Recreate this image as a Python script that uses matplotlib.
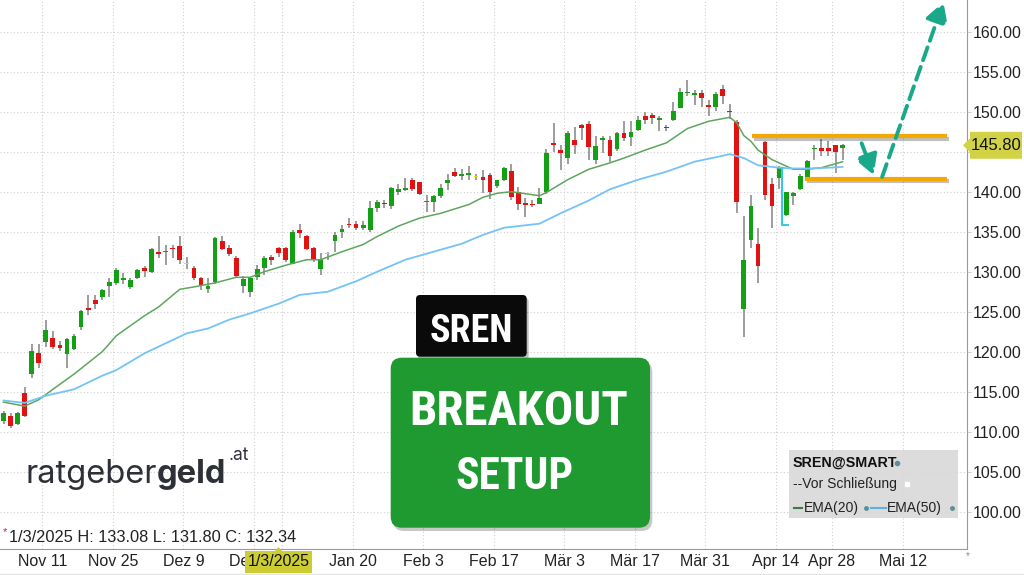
import matplotlib
matplotlib.use('Agg')
import matplotlib.pyplot as plt
import matplotlib.patheffects as pe
from matplotlib.patches import FancyBboxPatch, Rectangle, Polygon
from matplotlib import font_manager
from matplotlib.font_manager import FontProperties
from matplotlib.textpath import TextPath
import numpy as np
import pandas as pd

#%% Daten
first_day = '2024-11-01'
holidays = ['2024-12-24', '2024-12-25', '2024-12-26', '2024-12-31',
            '2025-01-01', '2025-01-02', '2025-04-18', '2025-04-21']

opens = [111.4, 112.0, 111.0, 114.8, 117.2, 119.9, 121.2, 121.7, 120.9, 119.7,
         120.3, 123.1, 125.5, 126.5, 126.8, 128.2, 128.6, 129.0, 128.1, 129.2,
         130.4, 129.9, 132.5, 132.4, 133.0, 133.2, 130.9, 130.5, 129.2, 127.9,
         128.7, 133.8, 133.0, 131.7, 128.2, 127.5, 129.3, 130.5, 131.8, 133.0,
         133.0, 131.0, 135.2, 134.4, 133.0, 130.3, 132.2, 133.8, 134.9, 136.0,
         136.0, 135.5, 135.2, 137.9, 138.6, 138.2, 140.0, 140.2, 141.5, 141.2,
         138.7, 138.7, 139.4, 141.1, 142.4, 142.0, 142.1, 141.8, 141.8, 142.1,
         140.7, 141.4, 142.6, 140.0, 138.6, 138.5, 138.5, 139.9, 146.1, 145.2,
         144.2, 146.4, 148.3, 148.5, 143.9, 146.5, 146.5, 145.3, 147.3, 146.8,
         147.7, 149.5, 149.6, 148.9, 148.1, 149.0, 150.5, 152.3, 152.1, 152.3,
         150.8, 150.6, 152.8, 150.1, 148.75, 125.4, 134.0, 133.5, 146.2, 141.0,
         141.7, 137.1, 139.4, 140.3, 141.8, 145.3, 145.4, 145.4, 145.8, 145.5]
highs = [112.6, 112.3, 112.5, 115.6, 121.0, 121.0, 124.0, 122.6, 121.4, 121.7,
         122.2, 125.2, 127.1, 127.1, 127.9, 129.2, 130.4, 129.8, 129.2, 130.3,
         130.7, 132.9, 134.4, 133.3, 133.3, 134.4, 131.8, 130.7, 129.4, 129.2,
         134.3, 134.5, 133.3, 131.9, 129.5, 129.4, 130.8, 131.9, 132.1, 133.08,
         133.1, 135.2, 136.0, 134.6, 133.1, 132.3, 132.5, 134.9, 135.8, 136.7,
         136.3, 136.3, 138.8, 139.0, 139.0, 140.6, 141.0, 141.7, 141.7, 141.2,
         139.6, 139.6, 141.0, 142.2, 142.9, 142.8, 143.2, 142.2, 142.7, 142.3,
         141.5, 143.1, 143.5, 140.6, 139.2, 139.0, 140.4, 145.3, 148.6, 145.8,
         147.6, 148.1, 148.5, 148.8, 147.0, 147.0, 147.0, 147.5, 148.8, 148.8,
         149.4, 150.0, 149.8, 149.4, 148.3, 151.2, 152.9, 154.0, 152.7, 152.7,
         151.5, 152.5, 153.3, 151.0, 149.0, 136.9, 139.6, 135.5, 146.3, 141.7,
         143.2, 140.0, 140.0, 142.2, 144.0, 145.8, 146.6, 146.3, 145.8, 145.96]
lows = [111.0, 110.5, 110.8, 111.9, 116.7, 118.0, 120.6, 120.3, 120.1, 118.0,
        120.2, 122.7, 124.6, 125.3, 126.5, 126.9, 128.3, 128.5, 127.8, 129.1,
        129.4, 129.8, 131.7, 130.8, 131.7, 131.0, 130.3, 129.0, 127.7, 127.3,
        128.5, 132.7, 131.9, 129.3, 127.4, 126.9, 129.0, 129.6, 130.8, 131.8,
        131.2, 130.95, 134.2, 132.7, 131.2, 129.6, 131.5, 132.5, 134.2, 135.4,
        135.2, 135.2, 135.0, 137.5, 137.9, 137.8, 139.6, 140.1, 140.1, 139.6,
        137.4, 137.5, 139.2, 140.2, 141.8, 141.5, 141.5, 141.5, 139.8, 139.1,
        140.5, 141.3, 139.0, 137.7, 136.8, 138.1, 138.5, 139.7, 144.9, 142.7,
        143.5, 144.7, 146.5, 144.0, 143.5, 144.8, 143.7, 145.1, 146.3, 145.7,
        147.6, 148.5, 148.5, 147.6, 147.6, 148.8, 150.4, 151.9, 150.8, 150.6,
        149.5, 150.1, 151.0, 149.1, 137.3, 121.9, 133.0, 128.6, 139.0, 135.4,
        140.3, 137.0, 138.3, 140.2, 141.5, 143.9, 144.4, 144.4, 142.3, 143.96]
closes = [112.4, 110.7, 112.3, 112.0, 120.1, 118.6, 122.7, 120.6, 120.5, 121.6,
          122.0, 125.1, 125.2, 126.0, 127.7, 128.7, 130.2, 129.2, 129.0, 130.2,
          130.1, 132.8, 132.2, 132.6, 132.8, 131.5, 130.9, 129.2, 128.3, 128.2,
          134.2, 132.8, 132.2, 129.5, 129.1, 129.2, 130.3, 131.7, 131.4, 132.34,
          131.5, 134.9, 134.8, 132.8, 131.5, 131.5, 132.2, 134.6, 135.3, 135.8,
          135.4, 135.8, 138.0, 138.7, 138.4, 140.4, 140.3, 140.5, 140.3, 139.7,
          138.8, 139.4, 140.4, 141.5, 142.0, 142.2, 142.3, 141.8, 141.5, 139.9,
          141.4, 142.9, 139.3, 138.5, 138.3, 138.3, 139.2, 144.8, 145.8, 144.8,
          147.3, 145.8, 148.0, 145.6, 145.7, 146.7, 144.4, 147.3, 146.7, 147.5,
          149.0, 149.0, 149.2, 149.2, 147.9, 150.1, 152.5, 152.5, 152.3, 151.7,
          150.6, 152.2, 151.9, 149.9, 138.75, 131.4, 138.2, 130.7, 139.6, 138.2,
          143.0, 139.9, 139.8, 142.0, 143.8, 145.4, 145.1, 145.1, 145.0, 145.8]

ema20_at = [0, 3, 5, 7, 10, 14, 16, 20, 22, 25, 27, 30, 33, 35, 37, 40, 43, 45, 48, 51,
            53, 56, 59, 62, 66, 68, 70, 72, 76, 77, 80, 83, 86, 88, 91, 94, 97, 100, 103, 104,
            105, 106, 107, 109, 111, 112, 114, 116, 118, 119]
ema20 = [113.7, 113.2, 114.0, 115.3, 117.2, 120.0, 122.0, 124.5, 125.6, 127.8,
         128.1, 128.6, 129.3, 129.3, 130.0, 130.8, 131.5, 131.5, 132.5, 133.4,
         134.4, 135.7, 136.7, 137.3, 138.4, 139.3, 139.8, 140.0, 139.5, 139.9,
         141.5, 142.8, 143.6, 144.2, 145.2, 146.1, 147.9, 148.8, 149.3, 148.6,
         147.0, 146.3, 145.2, 144.0, 143.2, 142.8, 142.8, 143.0, 143.5, 143.75]
ema50_at = [0, 3, 6, 10, 14, 16, 20, 26, 29, 32, 35, 39, 42, 46, 50, 53, 57, 61, 65, 68,
            71, 76, 79, 83, 86, 90, 94, 98, 101, 103, 105, 107, 110, 112, 114, 117, 119]
ema50 = [113.9, 113.6, 114.5, 115.3, 117.0, 117.7, 119.8, 122.3, 122.9, 124.0,
         124.8, 126.0, 127.1, 127.5, 128.8, 130.0, 131.5, 132.5, 133.5, 134.6,
         135.5, 136.0, 137.3, 138.9, 140.3, 141.5, 142.5, 143.75, 144.3, 144.7,
         144.2, 143.3, 143.0, 142.9, 142.9, 143.0, 143.1]

tick_dates = ['2024-11-11', '2024-11-25', '2024-12-09', '2024-12-23', '2025-01-06',
              '2025-01-20', '2025-02-03', '2025-02-17', '2025-03-03', '2025-03-17',
              '2025-03-31', '2025-04-14', '2025-04-28', '2025-05-12']
hidden_ticks = ['2025-01-06']   # liegt unter der Fadenkreuz-Markierung
monate = ['Jan', 'Feb', 'Mär', 'Apr', 'Mai', 'Jun', 'Jul', 'Aug', 'Sep', 'Okt', 'Nov', 'Dez']
crosshair_day = '2025-01-03'

# Zeichnungen (Widerstand / Unterstützung / Pfeile)
resistance = 146.9
support = 141.6
res_from, sup_from, lines_to = 106.1, 113.7, 133.8
arrow_down = [(121.7, 146.05), (123.4, 142.09)]
arrow_up = [(124.6, 141.84), (133.3, 163.7)]
cyan_mark = ([110.4, 110.4, 111.3], [142.9, 135.8, 135.8])

#%% Kalender (Handelstage SIX)
days = pd.bdate_range(first_day, '2025-06-30')
days = days[~days.isin(pd.to_datetime(holidays))]
pos = {d: i for i, d in enumerate(days)}
n = len(closes)
x = np.arange(n)
o, h, l, c = map(np.array, (opens, highs, lows, closes))

# fette Groteskschrift suchen, deren Proportion (Breite/Versalhöhe) am besten passt
PREFIXE = ('Noto Sans', 'DejaVu Sans', 'Liberation Sans', 'Roboto', 'Open Sans', 'Lato', 'Inter')
ZUSATZ = {'condensed', 'semicondensed', 'extracondensed', 'narrow', 'display', 'black', 'bold',
          'extrabold', 'semibold', 'heavy', 'medium'}


def finde_titel_font(probe='BREAKOUT', ziel=215 / 34):
    best = None
    gesehen = set()
    for f in font_manager.fontManager.ttflist:
        pref = next((p for p in PREFIXE if f.name.startswith(p)), None)
        if pref is None or f.fname in gesehen:
            continue
        rest = f.name[len(pref):].lower().replace('-', '').split()
        if not all(r in ZUSATZ for r in rest):
            continue
        gesehen.add(f.fname)
        if 'italic' in str(f.style) or 'oblique' in str(f.style):
            continue
        w = f.weight if isinstance(f.weight, int) else (700 if 'bold' in str(f.weight) else 400)
        if w < 600:
            continue
        try:
            ext = TextPath((0, 0), probe, size=100, prop=FontProperties(fname=f.fname)).get_extents()
        except Exception:
            continue
        if ext.height <= 0:
            continue
        score = abs(ext.width / ext.height - ziel) - 0.0005 * w
        if best is None or score < best[0]:
            best = (score, f.fname)
    if best is None:
        return FontProperties(family='DejaVu Sans', weight='bold')
    return FontProperties(fname=best[1])


titel_font = finde_titel_font()
plt.rcParams['font.family'] = ['Liberation Sans', 'DejaVu Sans']

#%% Figur
fig = plt.figure(figsize=(10.24, 5.75), dpi=100)
fig.patch.set_facecolor('white')
ax = fig.add_axes([0, 26 / 575, 966.7 / 1024, 549 / 575])
ax.set_xlim(-0.5, 136.6)
ax.set_ylim(95.34, 163.96)

# Kerzen
farben = np.where(c > o, '#14a014', np.where(c < o, '#e01212', '#e6dc1e'))
ax.vlines(x, l, h, color='#8c8c8c', lw=1.2, zorder=2)
body = np.maximum(np.abs(c - o), 0.15)
ax.bar(x, body, bottom=np.minimum(o, c), width=0.68, color=farben, zorder=3)

# EMA-Linien
ax.plot(ema20_at, ema20, color='#5ea65e', lw=1.1, zorder=4)
ax.plot(ema50_at, ema50, color='#74c3f6', lw=1.3, zorder=4)
ax.plot(*cyan_mark, color='#3cc6e6', lw=1.5, zorder=4)

# Widerstand / Unterstützung
schatten = [pe.SimpleLineShadow(offset=(1.5, -1.5), shadow_color='k', alpha=0.25), pe.Normal()]
ax.plot([res_from, lines_to], [resistance, resistance], color='#f5a800', lw=3,
        solid_capstyle='butt', path_effects=schatten, zorder=5)
ax.plot([sup_from, lines_to], [support, support], color='#f5a800', lw=3,
        solid_capstyle='butt', path_effects=schatten, zorder=5)
for (x0, y0), (x1, y1) in (arrow_down, arrow_up):
    ax.annotate('', xy=(x1, y1), xytext=(x0, y0), annotation_clip=False, zorder=6,
                arrowprops=dict(arrowstyle='-|>,head_length=0.6,head_width=0.34',
                                color='#1aa88a', lw=2.8, linestyle=(0, (3.5, 1.8)),
                                mutation_scale=20, shrinkA=0, shrinkB=0))

# Achsen
ax.yaxis.tick_right()
ax.set_yticks(np.arange(100, 161, 5))
ax.set_yticklabels([f'{v:.2f}' for v in np.arange(100, 161, 5)])
tick_pos = [pos[pd.Timestamp(d)] - 0.5 for d in tick_dates]
tick_lab = ['' if d in hidden_ticks else f'{monate[pd.Timestamp(d).month - 1]} {pd.Timestamp(d).day}'
            for d in tick_dates]
ax.set_xticks(tick_pos)
ax.set_xticklabels(tick_lab)
ax.grid(True, color='#cfcfcf', lw=0.8, ls=(0, (1, 2)))
ax.set_axisbelow(True)
for s in ('left', 'top'):
    ax.spines[s].set_visible(False)
for s in ('right', 'bottom'):
    ax.spines[s].set_color('#9a9a9a')
ax.tick_params(axis='y', length=3, color='#cfcfcf', pad=1.5, labelsize=11.5, labelcolor='#222222')
ax.tick_params(axis='x', length=0, pad=3.5, labelsize=11.5, labelcolor='#222222')

#%% Overlay in Pixelkoordinaten
ov = fig.add_axes([0, 0, 1, 1])
ov.set_xlim(0, 1024)
ov.set_ylim(575, 0)
ov.axis('off')
renderer = fig.canvas.get_renderer()


def to_px(i, v):
    X, Y = ax.transData.transform((i, v))
    return X, 575 - Y


def titel(s, xm, yb, breite):
    # Schriftgröße so, dass die Tintenbreite passt (Pixel = Punkte * 100/72)
    ext = TextPath((0, 0), s, size=100, prop=titel_font).get_extents()
    size_px = 100 * breite / ext.width
    return ov.text(xm, yb, s, fontproperties=titel_font, fontsize=size_px * 72 / 100,
                   color='white', ha='center', va='baseline')


# Infozeile Fadenkreuz
ci = pos[pd.Timestamp(crosshair_day)]
cd = days[ci]
ov.text(5, 532, '*', color='#d02020', fontsize=8, ha='center', va='center')
ov.text(9, 538, f'{cd.month}/{cd.day}/{cd.year} H: {highs[ci]:.2f} L: {lows[ci]:.2f} C: {closes[ci]:.2f}',
        fontsize=11.8, color='#222222', va='center')
xc, _ = to_px(ci, 0)
ov.add_patch(Rectangle((xc - 33.5, 551), 67, 22, fc='#cccc33', ec='none'))
ov.add_patch(Polygon([(xc - 3.5, 551), (xc + 3.5, 551), (xc, 547)], closed=True, fc='#cccc33', ec='none'))
ov.text(xc, 562, f'{cd.month}/{cd.day}/{cd.year}', fontsize=11.5, ha='center', va='center', color='#111111')
ov.plot([0, 1024], [573.5, 573.5], color='#e4e4e4', lw=1)
ov.text(968, 556, '*', color='#888888', fontsize=7, ha='center', va='center')

# Kursschild rechts
_, yp = to_px(0, closes[-1])
ov.add_patch(Polygon([(963, yp), (970, yp - 7), (970, yp - 13.5), (1022, yp - 13.5),
                      (1022, yp + 13.5), (970, yp + 13.5), (970, yp + 7)],
                     closed=True, fc='#d2d246', ec='none'))
ov.text(996, yp + 0.5, f'{closes[-1]:.2f}', fontsize=12, ha='center', va='center', color='#111111')

# Legende
ov.add_patch(Rectangle((789, 450), 169, 68, fc='#d9d9d9', ec='none', alpha=0.92))
ov.text(793, 463, 'SREN@SMART', fontsize=10.3, weight='bold', va='center', color='#111111')
ov.plot(897, 463, 'o', ms=3, color='#5b8f9a')
ov.text(793, 484, '--Vor Schließung', fontsize=10, va='center', color='#222222')
ov.plot(907, 484, 's', ms=2.5, color='white')
ov.plot([794, 802], [508, 508], color='#3d7a3d', lw=1.5)
ov.text(804, 508, 'EMA(20)', fontsize=10, va='center', color='#222222')
ov.plot(866, 508, 'o', ms=2.5, color='#5b8f9a')
ov.plot([871, 886], [508, 508], color='#5ab0e8', lw=1.5)
ov.text(887, 508, 'EMA(50)', fontsize=10, va='center', color='#222222')
ov.plot(952, 508, 'o', ms=2.5, color='#5b8f9a')

# Logo
t1 = ov.text(25, 483, 'ratgeber', family=['Inter', 'DejaVu Sans'], fontsize=21, color='#2d3036', va='baseline')
t2 = ov.text(0, 483, 'geld', family=['Inter', 'DejaVu Sans'], fontsize=21, weight='bold', color='#2d3036', va='baseline')
w1 = t1.get_window_extent(renderer=renderer).width
w2 = t2.get_window_extent(renderer=renderer).width
k = 202 / (w1 + w2)
t1.set_fontsize(21 * k)
t2.set_fontsize(21 * k)
t2.set_x(25 + w1 * k)
ov.text(25 + (w1 + w2) * k + 2, 460, '.at', family=['Inter', 'DejaVu Sans'], fontsize=12.5,
        color='#2d3036', va='baseline')

# Boxen
ov.add_patch(FancyBboxPatch((418, 298), 110.7, 61.7, boxstyle='round,pad=0,rounding_size=4',
                            fc='black', ec='none', alpha=0.25))
ov.add_patch(FancyBboxPatch((416, 295), 110.7, 61.7, boxstyle='round,pad=0,rounding_size=4',
                            fc='#0a0a0a', ec='none'))
ov.add_patch(FancyBboxPatch((393, 361), 259.3, 170, boxstyle='round,pad=0,rounding_size=11',
                            fc='black', ec='none', alpha=0.22))
ov.add_patch(FancyBboxPatch((390.7, 357.7), 259.3, 170, boxstyle='round,pad=0,rounding_size=11',
                            fc='#1f9a30', ec='none'))
titel('SREN', 471, 341.7, 80)
titel('BREAKOUT', 519, 425, 215)
titel('SETUP', 514.5, 489, 115)

fig.savefig('out.png', dpi=100, facecolor='white')
